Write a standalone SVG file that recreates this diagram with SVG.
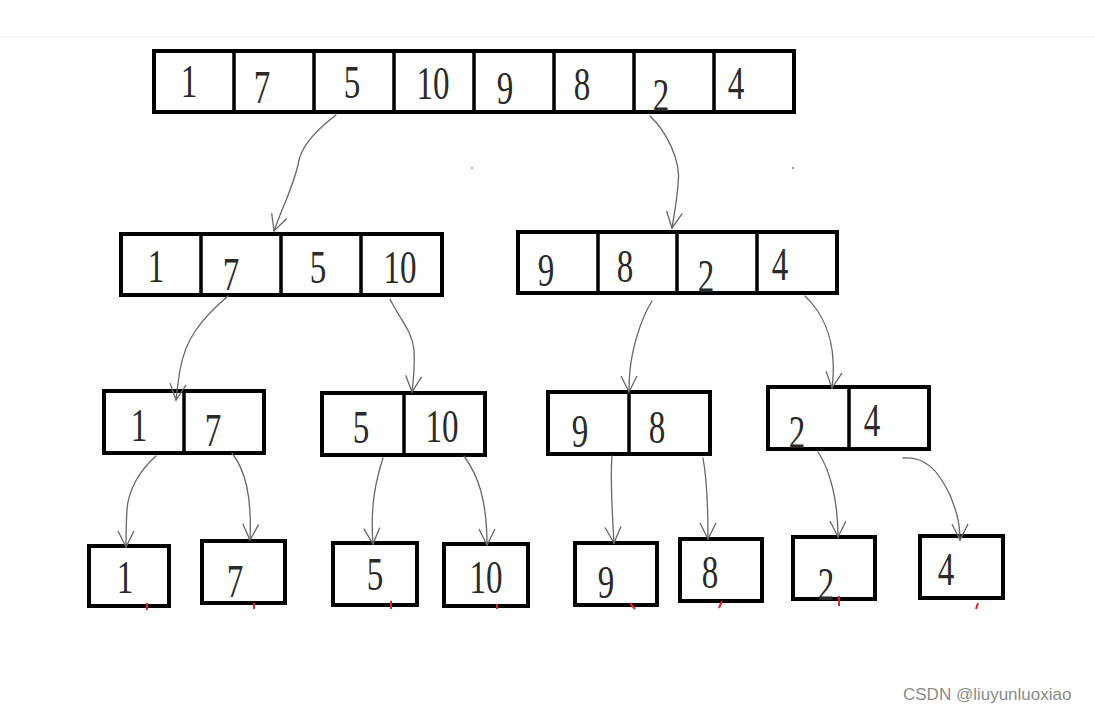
<svg xmlns="http://www.w3.org/2000/svg" width="1095" height="715" viewBox="0 0 1095 715">
<style>
.box{fill:#fff;stroke:#000;stroke-width:4}
.div{stroke:#000;stroke-width:3.5}
.num{font-family:"Liberation Serif",serif;font-size:46px;fill:#2a2a2a;text-anchor:middle}
.con{fill:none;stroke:#666;stroke-width:1.3;stroke-linecap:round}
.red{stroke:#e0202a;stroke-width:2}
.wm{font-family:"Liberation Sans",Arial,sans-serif;font-size:17px;fill:#8a8a8a}
</style>
<defs>
<marker id="ah" viewBox="0 0 20 20" refX="18" refY="10" markerWidth="20" markerHeight="20" markerUnits="userSpaceOnUse" orient="auto">
<path d="M2,2 L18,10 L2,18" fill="none" stroke="#666" stroke-width="1.3"/>
</marker>
</defs>
<rect width="1095" height="715" fill="#fff"/>
<line x1="0" y1="37" x2="1095" y2="37" stroke="#eee" stroke-width="1"/>

<g id="n0">
<rect class="box" x="154" y="51" width="640" height="61"/>
<path class="div" d="M234,51V112M314,51V112M394,51V112M474,51V112M554,51V112M634,51V112M714,51V112"/>
<text class="num" x="189" y="97" transform="translate(189 0) scale(0.72 1) translate(-189 0)">1</text>
<text class="num" x="262" y="103" transform="translate(262 0) scale(0.72 1) translate(-262 0)">7</text>
<text class="num" x="352" y="98" transform="translate(352 0) scale(0.72 1) translate(-352 0)">5</text>
<text class="num" x="433" y="99" transform="translate(433 0) scale(0.72 1) translate(-433 0)">10</text>
<text class="num" x="505" y="104" transform="translate(505 0) scale(0.72 1) translate(-505 0)">9</text>
<text class="num" x="582" y="100" transform="translate(582 0) scale(0.72 1) translate(-582 0)">8</text>
<text class="num" x="661" y="111" transform="translate(661 0) scale(0.72 1) translate(-661 0)">2</text>
<text class="num" x="736" y="99" transform="translate(736 0) scale(0.72 1) translate(-736 0)">4</text>
</g>

<g id="n1">
<rect class="box" x="121" y="234" width="321" height="61"/>
<path class="div" d="M201,234V295M281,234V295M361,234V295"/>
<text class="num" x="156" y="282" transform="translate(156 0) scale(0.72 1) translate(-156 0)">1</text>
<text class="num" x="231" y="290" transform="translate(231 0) scale(0.72 1) translate(-231 0)">7</text>
<text class="num" x="318" y="283" transform="translate(318 0) scale(0.72 1) translate(-318 0)">5</text>
<text class="num" x="400" y="283" transform="translate(400 0) scale(0.72 1) translate(-400 0)">10</text>
</g>

<g id="n2">
<rect class="box" x="518" y="232" width="319" height="61"/>
<path class="div" d="M598,232V293M677,232V293M757,232V293"/>
<text class="num" x="546" y="286" transform="translate(546 0) scale(0.72 1) translate(-546 0)">9</text>
<text class="num" x="625" y="282" transform="translate(625 0) scale(0.72 1) translate(-625 0)">8</text>
<text class="num" x="706" y="292" transform="translate(706 0) scale(0.72 1) translate(-706 0)">2</text>
<text class="num" x="780" y="280" transform="translate(780 0) scale(0.72 1) translate(-780 0)">4</text>
</g>

<g id="n3">
<rect class="box" x="104" y="391" width="160" height="62"/>
<path class="div" d="M184,391V453"/>
<text class="num" x="139" y="441" transform="translate(139 0) scale(0.72 1) translate(-139 0)">1</text>
<text class="num" x="213" y="446" transform="translate(213 0) scale(0.72 1) translate(-213 0)">7</text>
</g>

<g id="n4">
<rect class="box" x="322" y="393" width="163" height="62"/>
<path class="div" d="M404,393V455"/>
<text class="num" x="361" y="443" transform="translate(361 0) scale(0.72 1) translate(-361 0)">5</text>
<text class="num" x="442" y="442" transform="translate(442 0) scale(0.72 1) translate(-442 0)">10</text>
</g>

<g id="n5">
<rect class="box" x="548" y="392" width="162" height="62"/>
<path class="div" d="M629,392V454"/>
<text class="num" x="580" y="447" transform="translate(580 0) scale(0.72 1) translate(-580 0)">9</text>
<text class="num" x="657" y="443" transform="translate(657 0) scale(0.72 1) translate(-657 0)">8</text>
</g>

<g id="n6">
<rect class="box" x="768" y="387" width="161" height="62"/>
<path class="div" d="M849,387V449"/>
<text class="num" x="797" y="448" transform="translate(797 0) scale(0.72 1) translate(-797 0)">2</text>
<text class="num" x="872" y="436" transform="translate(872 0) scale(0.72 1) translate(-872 0)">4</text>
</g>

<g id="n7"><rect class="box" x="89" y="546" width="80" height="60"/><text class="num" x="125" y="593" transform="translate(125 0) scale(0.72 1) translate(-125 0)">1</text></g>
<g id="n8"><rect class="box" x="202" y="541" width="83" height="62"/><text class="num" x="235" y="597" transform="translate(235 0) scale(0.72 1) translate(-235 0)">7</text></g>
<g id="n9"><rect class="box" x="333" y="543" width="84" height="62"/><text class="num" x="375" y="590" transform="translate(375 0) scale(0.72 1) translate(-375 0)">5</text></g>
<g id="n10"><rect class="box" x="444" y="544" width="84" height="62"/><text class="num" x="486" y="593" transform="translate(486 0) scale(0.72 1) translate(-486 0)">10</text></g>
<g id="n11"><rect class="box" x="575" y="543" width="82" height="62"/><text class="num" x="606" y="598" transform="translate(606 0) scale(0.72 1) translate(-606 0)">9</text></g>
<g id="n12"><rect class="box" x="680" y="539" width="82" height="62"/><text class="num" x="710" y="588" transform="translate(710 0) scale(0.72 1) translate(-710 0)">8</text></g>
<g id="n13"><rect class="box" x="793" y="537" width="82" height="62"/><text class="num" x="826" y="600" transform="translate(826 0) scale(0.72 1) translate(-826 0)">2</text></g>
<g id="n14"><rect class="box" x="920" y="536" width="83" height="62"/><text class="num" x="946" y="585" transform="translate(946 0) scale(0.72 1) translate(-946 0)">4</text></g>

<g id="connectors">
<path class="con" marker-end="url(#ah)" d="M336,115 C310,135 300,150 298,165 C292,190 283,205 274,231"/>
<path class="con" marker-end="url(#ah)" d="M650,116 C665,130 682,160 678,185 C677,200 674,215 672,228"/>
<path class="con" marker-end="url(#ah)" d="M228,296 C200,320 185,340 180,370 C178,382 177,392 176,400"/>
<path class="con" marker-end="url(#ah)" d="M390,299 C400,320 412,330 414,350 C415,370 413,382 412,392"/>
<path class="con" marker-end="url(#ah)" d="M652,301 C640,320 632,350 630,370 C629,380 629,386 629,392"/>
<path class="con" marker-end="url(#ah)" d="M805,296 C825,315 832,340 833,360 C834,372 833,380 832,388"/>
<path class="con" marker-end="url(#ah)" d="M156,456 C140,470 128,490 127,510 C126,525 126,537 126,547"/>
<path class="con" marker-end="url(#ah)" d="M232,453 C245,470 252,495 250,540"/>
<path class="con" marker-end="url(#ah)" d="M383,458 C376,480 370,505 373,544"/>
<path class="con" marker-end="url(#ah)" d="M464,456 C478,475 487,500 487,545"/>
<path class="con" marker-end="url(#ah)" d="M612,456 C610,480 612,510 614,543"/>
<path class="con" marker-end="url(#ah)" d="M703,458 C707,480 708,510 708,539"/>
<path class="con" marker-end="url(#ah)" d="M818,452 C830,470 838,500 838,537"/>
<path class="con" marker-end="url(#ah)" d="M903,458 C925,456 938,470 950,495 C958,515 960,525 960,540"/>
</g>

<g id="marks">
<circle cx="472" cy="168" r="1" fill="#888"/>
<circle cx="793" cy="168" r="1" fill="#888"/>
<path class="red" d="M147,603V610M254,603V609M391,601V609M497,604V609M630,603L635,609M722,601L719,608M839,596V606M978,603L976,609"/>
</g>

<text class="wm" x="903" y="700">CSDN @liuyunluoxiao</text>
</svg>
